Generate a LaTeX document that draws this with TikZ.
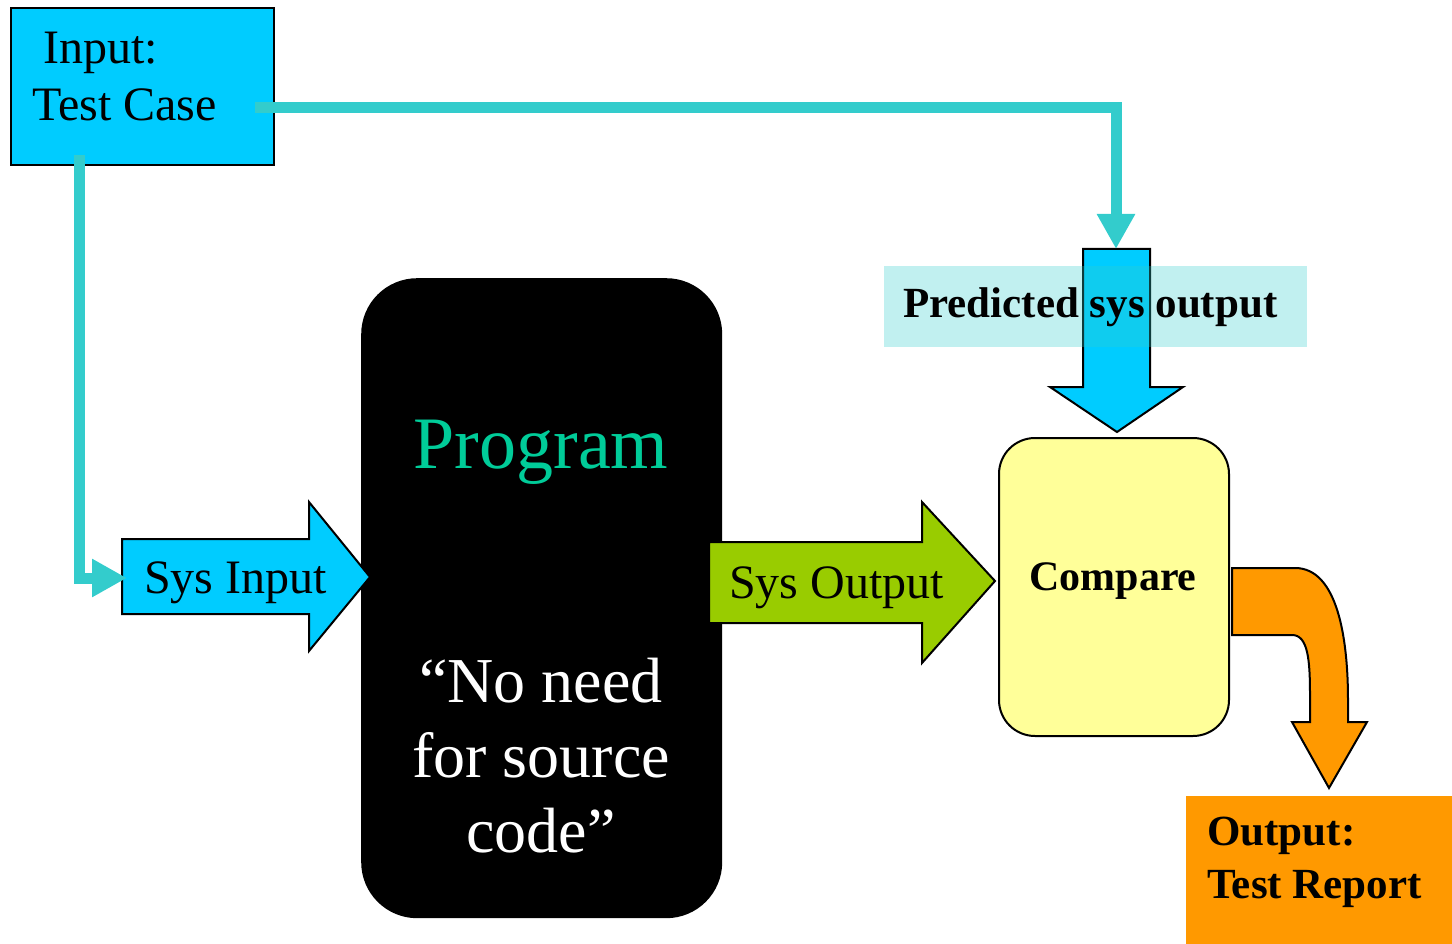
\documentclass[tikz,border=0pt]{standalone}
\usepackage{fontspec}
\setmainfont{Liberation Serif}
\usetikzlibrary{arrows.meta}
\definecolor{inblue}{HTML}{00CCFF}
\definecolor{teal1}{HTML}{33CCCC}
\definecolor{sysgreen}{HTML}{99CC00}
\definecolor{cmpyellow}{HTML}{FFFF99}
\definecolor{outorange}{HTML}{FF9900}
\definecolor{progtext}{HTML}{00CC99}
\tikzset{
  blockarrow/.style={draw=black, line width=2pt, line join=miter},
  connector/.style={draw=teal1, line width=11pt, line join=miter, line cap=butt,
    -{Triangle[length=35pt,width=36pt,fill=teal1]}},
  txt/.style={inner sep=0pt, anchor=base west, font=\fontsize{48}{56}\selectfont},
  boldtxt/.style={inner sep=0pt, anchor=base west, font=\fontsize{43}{50}\selectfont\bfseries},
}
\begin{document}
\begin{tikzpicture}[x=1pt,y=-1pt]
\useasboundingbox (0,0) rectangle (1452,944);

% Input box
\node[draw=black, line width=2pt, fill=inblue, minimum width=263pt, minimum height=157pt, inner sep=0pt, anchor=north west] (input) at (10,7) {};
\node[txt] (inputl1) at (43,64) {Input:};
\node[txt] (inputl2) at (32,121) {Test Case};

% Program box
\node[fill=black, rounded corners=56pt, minimum width=361pt, minimum height=640pt, inner sep=0pt, anchor=north west] (prog) at (361,278) {};
\node[inner sep=0pt, anchor=base, text=progtext, font=\fontsize{74}{80}\selectfont] (progl) at (541,468) {Program};
\node[inner sep=0pt, anchor=base, text=white, font=\fontsize{64}{75}\selectfont] (nn1) at (541,702) {``No need};
\node[inner sep=0pt, anchor=base, text=white, font=\fontsize{64}{75}\selectfont] (nn2) at (541,777) {for source};
\node[inner sep=0pt, anchor=base, text=white, font=\fontsize{64}{75}\selectfont] (nn3) at (541,852) {code''};

% Compare box
\node[draw=black, line width=2pt, fill=cmpyellow, rounded corners=36pt, minimum width=230pt, minimum height=298pt, inner sep=0pt, anchor=north west] (cmp) at (998,437) {};
\node[inner sep=0pt, anchor=base, font=\fontsize{42}{50}\selectfont\bfseries] (cmpl) at (1113,590) {Compare};

% Output box
\node[fill=outorange, minimum width=266pt, minimum height=148pt, inner sep=0pt, anchor=north west] (out) at (1186,796) {};
\node[boldtxt] (outl1) at (1207,845) {Output:};
\node[boldtxt] (outl2) at (1207,898) {Test Report};

% Sys Input block arrow
\path[blockarrow, fill=inblue] (122,539) -- (309,539) -- (309,502) -- (370,577) -- (309,651) -- (309,614) -- (122,614) -- cycle;
\node[txt] (sysin) at (144,593) {Sys Input};

% Sys Output block arrow
\path[blockarrow, fill=sysgreen] (709,542) -- (922,542) -- (922,502) -- (995,581) -- (922,663) -- (922,623) -- (709,623) -- cycle;
\node[txt] (sysout) at (729,598) {Sys Output};

% Predicted down arrow
\path[blockarrow, fill=inblue] (1083,249) -- (1150,249) -- (1150,387) -- (1183,387) -- (1117,432) -- (1050,387) -- (1083,387) -- cycle;
\node[fill=teal1, fill opacity=0.3, minimum width=423pt, minimum height=81pt, inner sep=0pt, anchor=north west] (predbox) at (884,266) {};
\node[boldtxt] (pred) at (903,317) {Predicted sys output};

% Orange curved arrow
\path[blockarrow, fill=outorange] (1232,568) -- (1295,568) .. controls (1338,568) and (1348,640) .. (1348,700) -- (1348,722) -- (1367,722) -- (1329,788) -- (1292,722) -- (1310,722) -- (1310,695) .. controls (1310,660) and (1308,635) .. (1292,635) -- (1232,635) -- cycle;

% Teal connectors
\coordinate (c1s) at (255,108);
\coordinate (c1e) at (1116,249);
\draw[connector] (c1s) -- (1116,108) -- (c1e);
\coordinate (c2s) at (79,155);
\coordinate (c2e) at (127,578);
\draw[connector] (c2s) -- (79,578) -- (c2e);
\end{tikzpicture}
\end{document}
